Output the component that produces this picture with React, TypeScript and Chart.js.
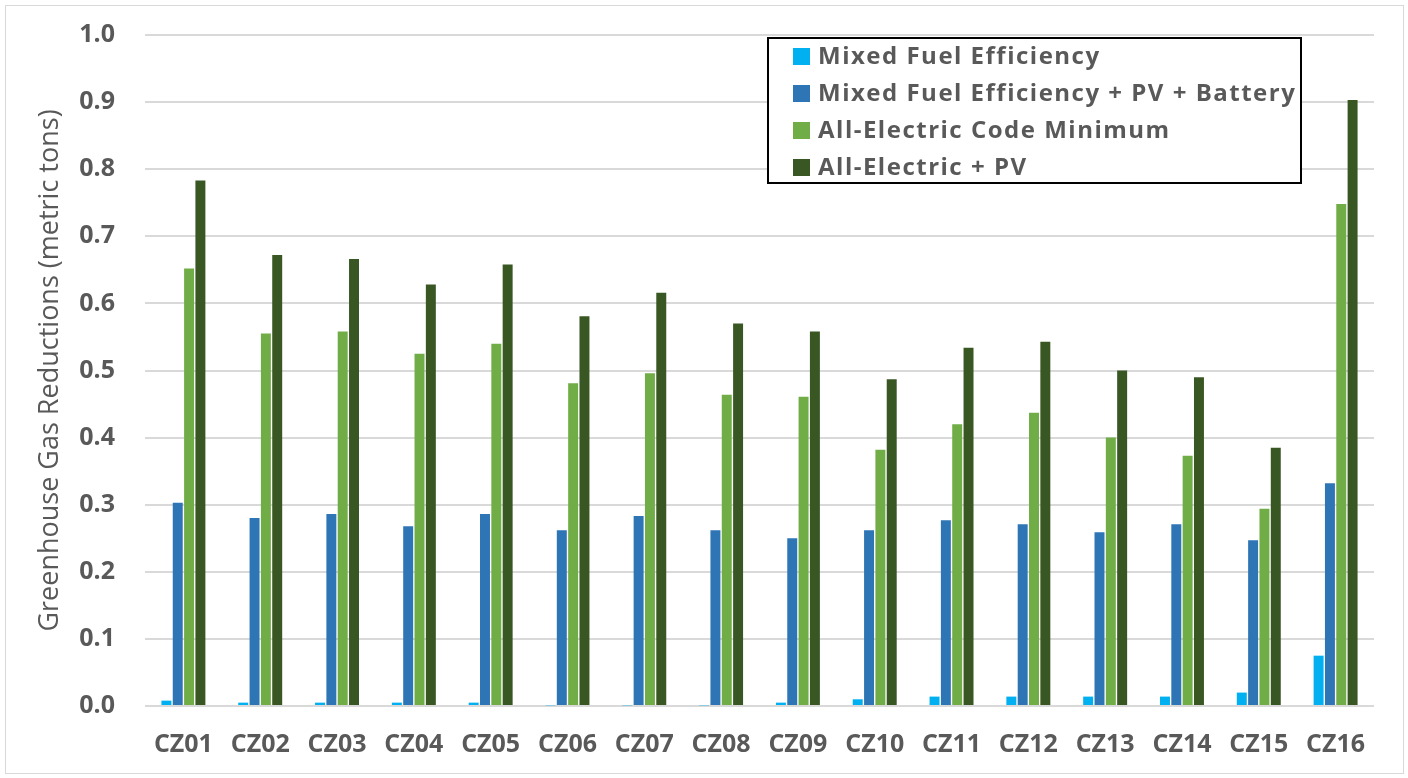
import { useEffect, useRef } from "react";
import { Chart, registerables } from "chart.js";
Chart.register(...registerables);

const categories = ["CZ01","CZ02","CZ03","CZ04","CZ05","CZ06","CZ07","CZ08","CZ09","CZ10","CZ11","CZ12","CZ13","CZ14","CZ15","CZ16"];
const seriesNames = ["Mixed Fuel Efficiency","Mixed Fuel Efficiency + PV + Battery","All-Electric Code Minimum","All-Electric + PV"];
const mixedFuel = [0.008,0.005,0.005,0.005,0.005,0.001,0.001,0.001,0.005,0.010,0.014,0.014,0.014,0.014,0.020,0.075];
const mixedFuelPvBattery = [0.303,0.280,0.286,0.268,0.286,0.262,0.283,0.262,0.250,0.262,0.277,0.271,0.259,0.271,0.247,0.332];
const allElectricMin = [0.652,0.555,0.558,0.525,0.540,0.481,0.496,0.464,0.461,0.382,0.420,0.437,0.400,0.373,0.294,0.748];
const allElectricPv = [0.783,0.672,0.666,0.628,0.658,0.581,0.616,0.570,0.558,0.487,0.534,0.543,0.500,0.490,0.385,0.903];
const seriesColors = ["#00B0F0","#2E75B6","#70AD47","#385723"];
const yMin = 0;
const yMax = 1.0;
const yStep = 0.1;

const FONT = "'Open Sans', Lato, sans-serif";
const TEXT = "#595959";

const boxLegend = {
  id: "boxLegend",
  afterDraw(chart: any) {
    const ctx = chart.ctx;
    ctx.save();
    const x = 768, y = 38, w = 533, h = 145;
    ctx.fillStyle = "#ffffff";
    ctx.fillRect(x, y, w, h);
    ctx.strokeStyle = "#000000";
    ctx.lineWidth = 2;
    ctx.strokeRect(x, y, w, h);
    ctx.font = `bold 24px ${FONT}`;
    try { (ctx as any).letterSpacing = "1.5px"; } catch (e) { /* ignore */ }
    ctx.textBaseline = "middle";
    ctx.textAlign = "left";
    chart.data.datasets.forEach((ds: any, i: number) => {
      const cy = 56 + i * 37;
      ctx.fillStyle = ds.backgroundColor;
      ctx.fillRect(793, cy - 8, 17, 17);
      ctx.fillStyle = TEXT;
      ctx.fillText(ds.label, 818, cy + 1);
    });
    ctx.restore();
  },
};

export default function App() {
  const ref = useRef<HTMLCanvasElement | null>(null);
  useEffect(() => {
    if (!ref.current) return;
    const data = [mixedFuel, mixedFuelPvBattery, allElectricMin, allElectricPv];
    const chart = new Chart(ref.current, {
      type: "bar",
      data: {
        labels: categories,
        datasets: seriesNames.map((name, i) => ({
          label: name,
          data: data[i],
          backgroundColor: seriesColors[i],
          borderWidth: 0,
          categoryPercentage: 0.59,
          barPercentage: 0.88,
        })),
      },
      options: {
        animation: false,
        responsive: false,
        devicePixelRatio: 1,
        layout: { padding: { left: 0, right: 34, top: 35, bottom: 0 } },
        plugins: { legend: { display: false }, tooltip: { enabled: false } },
        scales: {
          x: {
            afterFit: (s: any) => { s.height = 72; },
            grid: { display: false, drawTicks: false },
            border: { display: false },
            ticks: { color: TEXT, font: { family: FONT, size: 25, weight: "bold" }, padding: 24, maxRotation: 0 },
          },
          y: {
            min: yMin,
            max: yMax,
            afterFit: (s: any) => { s.width = 145; },
            grid: { color: "#d9d9d9", lineWidth: 2, drawTicks: true, tickLength: 30, tickColor: "rgba(0,0,0,0)" },
            border: { display: false },
            ticks: {
              stepSize: yStep,
              color: TEXT,
              padding: 0,
              font: { family: FONT, size: 25, weight: "bold" },
              callback: (v: any) => Number(v).toFixed(1),
            },
            title: {
              display: true,
              text: "Greenhouse Gas Reductions (metric tons)",
              color: TEXT,
              font: { family: FONT, size: 27 },
              padding: { top: 34, bottom: 0 },
            },
          },
        },
      },
      plugins: [boxLegend],
    });
    return () => chart.destroy();
  }, []);
  return (
    <div style={{ position: "absolute", left: 0, top: 0, width: 1408, height: 778, background: "#fff" }}>
      <canvas ref={ref} width={1408} height={778} style={{ position: "absolute", left: 0, top: 0, width: 1408, height: 778 }} />
      <div style={{ position: "absolute", left: 5, top: 5, width: 1397, height: 767, border: "1px solid #d9d9d9", pointerEvents: "none" }} />
    </div>
  );
}
